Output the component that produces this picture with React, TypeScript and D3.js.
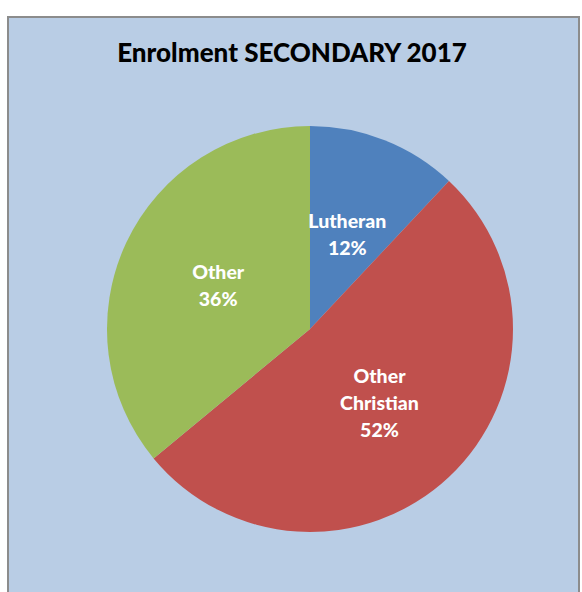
import React from 'react';
import { pie, arc, PieArcDatum } from 'd3';

const categories = ['Lutheran', 'Other Christian', 'Other'];
const shares = [12, 52, 36];
const labelLines = [['Lutheran'], ['Other', 'Christian'], ['Other']];
const colors = ['#4F81BD', '#C0504D', '#9BBB59'];
const title = 'Enrolment SECONDARY 2017';

const App = () => {
    const svgWidth = 582;
    const svgHeight = 592;
    const cx = 310;
    const cy = 329;
    const radius = 203;

    const pieGen = pie<number>().sort(null).value(d => d);
    const slices = pieGen(shares);
    const arcGen = arc<PieArcDatum<number>>().innerRadius(0).outerRadius(radius);
    const font = 'Lato, "Open Sans", sans-serif';
    const lineHeight = 27;

    return (
        <svg width={svgWidth} height={svgHeight} style={{ position: 'absolute', left: 0, top: 0, display: 'block' }}>
            <rect x={8} y={17} width={571} height={600} fill='#B9CDE5' stroke='#8C8C8C' strokeWidth={2} />
            <text x={292} y={62} textAnchor='middle' fontFamily={font} fontWeight='900' fontSize={26} fill='#000'>{title}</text>
            <g transform={`translate(${cx},${cy})`}>
                {slices.map((s, i) => <path key={categories[i]} d={arcGen(s)} fill={colors[i]} />)}
                {slices.map((s, i) => {
                    const [lx, ly] = arcGen.centroid(s);
                    const lines = [...labelLines[i], shares[i] + '%'];
                    const top = ly - (lines.length - 1) * lineHeight / 2;
                    return (
                        <text key={categories[i]} textAnchor='middle' fontFamily={font} fontWeight='900' fontSize={19.5} fill='#fff'>
                            {lines.map((t, j) => <tspan key={j} x={lx} y={top + j * lineHeight} dy='0.35em'>{t}</tspan>)}
                        </text>
                    );
                })}
            </g>
        </svg>
    );
}

export default App;
